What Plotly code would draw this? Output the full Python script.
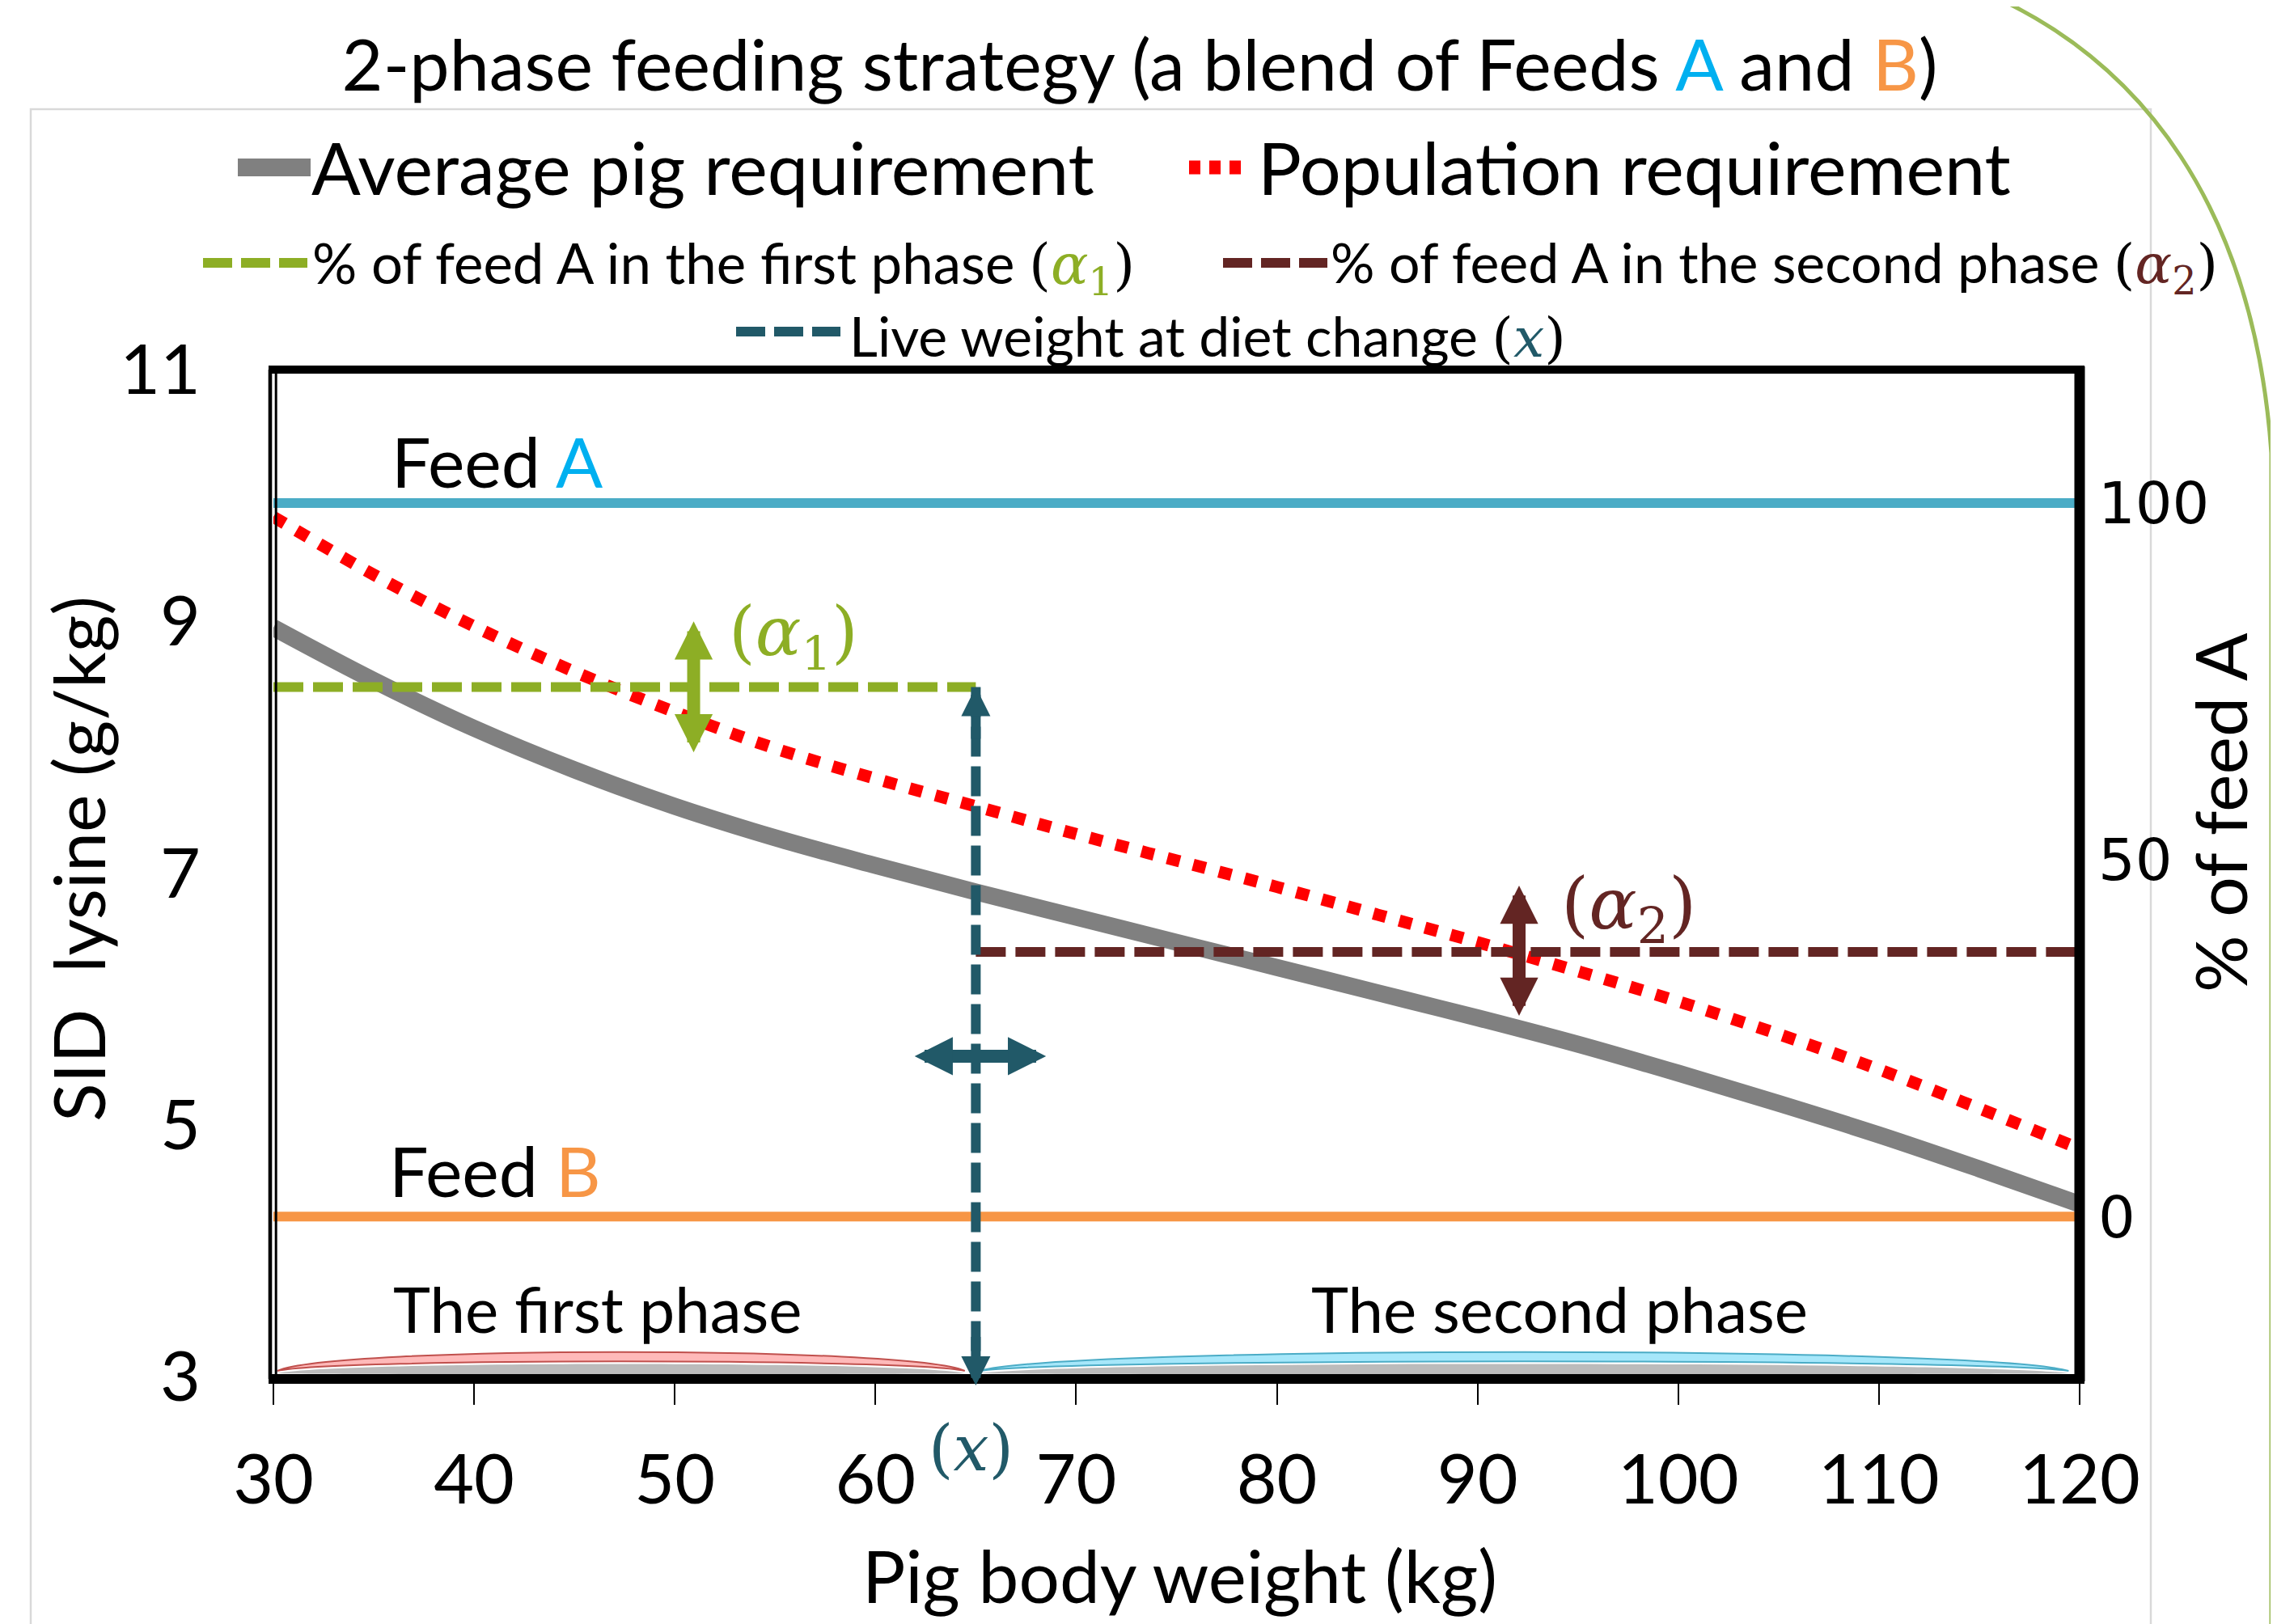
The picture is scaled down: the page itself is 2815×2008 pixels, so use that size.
import plotly.graph_objects as go

# ---------------- data ----------------
weights = [30, 35, 40, 45, 50, 55, 60, 65, 70, 75, 80, 85, 90, 95, 100, 105, 110, 115, 120]
avg_pig_req = [8.95, 8.53, 8.15, 7.82, 7.53, 7.28, 7.06, 6.85, 6.65, 6.45, 6.25, 6.05, 5.85, 5.64, 5.41, 5.17, 4.92, 4.65, 4.37]
population_req = [9.83, 9.37, 8.96, 8.60, 8.28, 7.99, 7.75, 7.53, 7.31, 7.10, 6.89, 6.67, 6.45, 6.22, 5.98, 5.72, 5.44, 5.13, 4.81]
weight_span = [30, 120]
feed_lysine = [9.94, 4.27]          # Feed A, Feed B (g/kg SID lysine)
feed_pct = [100, 0]                 # % of feed A for pure A / pure B
alpha_pct = [74.2, 37.1]            # alpha1, alpha2 (% of feed A)
x_change = 65                       # live weight at diet change (kg)
phase_spans = [[30, 65], [65, 120]]
x_ticks = [30, 40, 50, 60, 70, 80, 90, 100, 110, 120]
y_ticks = [3, 5, 7, 9, 11]
y2_ticks = [0, 50, 100]
y_range = [3, 11]

# ---------------- styles ----------------
W, H = 2815, 2008
L, R, T, B = 330, 2563, 449, 1694
PW, PH = R - L, B - T
FONT = "Lato, sans-serif"
MATH = "DejaVu Serif"
GRAY, RED = "#808080", "#FF0000"
GREEN, DRED, TEAL = "#8DAE25", "#632523", "#215968"
BLUE_LINE, ORANGE = "#4BACC6", "#F79646"
BLUE_TXT = "#00B0F0"


def px(x):
    return (x - L) / PW


def py(y):
    return (B - y) / PH


def to_pct(v):
    return (v - feed_lysine[1]) / (feed_lysine[0] - feed_lysine[1]) * 100


y2_range = [to_pct(y_range[0]), to_pct(y_range[1])]

fig = go.Figure()

# Feed A / Feed B lines (on % axis)
fig.add_trace(go.Scatter(x=weight_span, y=[feed_pct[0]] * 2, yaxis="y2", mode="lines",
                         line=dict(color=BLUE_LINE, width=12), showlegend=False, hoverinfo="skip"))
fig.add_trace(go.Scatter(x=weight_span, y=[feed_pct[1]] * 2, yaxis="y2", mode="lines",
                         line=dict(color=ORANGE, width=12), showlegend=False, hoverinfo="skip"))
# requirements
fig.add_trace(go.Scatter(x=weights, y=avg_pig_req, mode="lines", name="Average pig requirement",
                         line=dict(color=GRAY, width=21, shape="spline"), showlegend=False))
fig.add_trace(go.Scatter(x=weights, y=population_req, mode="lines", name="Population requirement",
                         line=dict(color=RED, width=15, dash="16px,17px", shape="spline"), showlegend=False))
# alpha lines
fig.add_trace(go.Scatter(x=[phase_spans[0][0], x_change], y=[alpha_pct[0]] * 2, yaxis="y2", mode="lines",
                         line=dict(color=GREEN, width=12, dash="37px,12px"), showlegend=False))
fig.add_trace(go.Scatter(x=[x_change, phase_spans[1][1]], y=[alpha_pct[1]] * 2, yaxis="y2", mode="lines",
                         line=dict(color=DRED, width=12, dash="37px,12px"), showlegend=False))
# live weight at diet change
fig.add_trace(go.Scatter(x=[x_change, x_change], y=[alpha_pct[0], y2_range[0]], yaxis="y2", mode="lines",
                         line=dict(color=TEAL, width=12, dash="37px,12px"), showlegend=False))

shapes = []


def pline(x0, y0, x1, y1, color, width, dash=None):
    d = dict(type="line", xref="paper", yref="paper", x0=px(x0), y0=py(y0), x1=px(x1), y1=py(y1),
             line=dict(color=color, width=width), layer="above")
    if dash:
        d["line"]["dash"] = dash
    shapes.append(d)


# chart-area frame (light gray)
shapes.append(dict(type="path", xref="paper", yref="paper",
                   path=f"M {px(30)},{py(2010)} L {px(30)},{py(127)} L {px(2651)},{py(127)} L {px(2651)},{py(2010)}",
                   line=dict(color="#D9D9D9", width=2.5), layer="below"))
# decorative green arc
shapes.append(dict(type="path", xref="paper", yref="paper",
                   path=(f"M {px(2462)},{py(-10)} C {px(2636)},{py(72)} {px(2778)},{py(242)} {px(2800)},{py(552)} "
                         f"L {px(2800)},{py(2010)}"),
                   line=dict(color="#9BBB59", width=5), layer="above"))

# phase ribbons
ribbons = [(phase_spans[0][0] + 0.2, phase_spans[0][1] - 0.55, "#FFB9B9", "#C0504D"),
           (phase_spans[1][0] + 0.2, phase_spans[1][1] - 0.55, "#A6E7FA", BLUE_LINE)]
yb, dt, db = 3.045, 0.15, 0.075
for x0, x1, fc, lc in ribbons:
    w = x1 - x0
    k = 1.333
    shadow = (f"M {x0},{yb-0.02} C {x0+0.08*w},{yb-0.02+db*k} {x1-0.08*w},{yb-0.02+db*k} {x1},{yb-0.02} "
              f"C {x1-0.08*w},{yb-0.03} {x0+0.08*w},{yb-0.03} {x0},{yb-0.02} Z")
    shapes.append(dict(type="path", xref="x", yref="y", path=shadow, fillcolor="rgba(60,60,60,0.35)",
                       line=dict(width=0), layer="above"))
    p = (f"M {x0},{yb} C {x0+0.08*w},{yb+dt*k} {x1-0.08*w},{yb+dt*k} {x1},{yb} "
         f"C {x1-0.08*w},{yb+db*k} {x0+0.08*w},{yb+db*k} {x0},{yb} Z")
    shapes.append(dict(type="path", xref="x", yref="y", path=p, fillcolor=fc,
                       line=dict(color=lc, width=2), layer="above"))

# plot frame
pline(L - 6, T, R + 6, T, "black", 10)
pline(R, T - 4, R, B + 6, "black", 13)
pline(L - 6, B + 3, R + 6, B + 3, "black", 12)
pline(L - 4, T, L - 4, B + 3, "black", 4.6)
pline(L + 3.2, T, L + 3.2, B, "black", 3)

# legend symbols
shapes.append(dict(type="rect", xref="paper", yref="paper", x0=px(286), x1=px(376), y0=py(188), y1=py(210),
                   fillcolor=GRAY, line=dict(width=0), layer="above"))
pline(1462, 199, 1530, 199, RED, 17, "14px,11px")
pline(243, 317, 372, 317, GREEN, 12, "36px,11px")
pline(1504, 317, 1633, 317, DRED, 12, "36px,11px")
pline(902, 402, 1031, 402, TEAL, 12, "36px,11px")

ann = []


def ptext(x, y, text, size, color="black", xanchor="left", family=FONT, angle=0):
    ann.append(dict(xref="paper", yref="paper", x=px(x), y=py(y), text=text, showarrow=False,
                    xanchor=xanchor, yanchor="middle", textangle=angle,
                    font=dict(family=family, size=size, color=color)))


def math_tag(sym, sub, color):
    s = f'<span style="font-family:{MATH}">(</span><span style="font-family:{MATH};color:{color}"><i>{sym}</i>'
    if sub:
        s += f'<sub>{sub}</sub>'
    s += f'</span><span style="font-family:{MATH}">)</span>'
    return s


# legend texts
ptext(375, 198, "Average pig requirement", 90)
ptext(1545, 198, "Population requirement", 90)
ptext(376, 321, "% of feed A in the first phase " + math_tag("α", "1", GREEN), 69)
ptext(1635, 321, "% of feed A in the second phase " + math_tag("α", "2", DRED), 68)
ptext(1040, 408, "Live weight at diet change " + math_tag("x", None, TEAL), 68)

# axis titles
ptext(1450, 1939, "Pig body weight (kg)", 89, xanchor="center")
ptext(88, 1054, "SID\u00a0 lysine (g/kg)", 88, xanchor="center", angle=-90)
ptext(2736, 997, "% of feed A", 88, xanchor="center", angle=-90)

# in-plot labels
ann.append(dict(x=41.16, y=10.28, xref="x", yref="y", showarrow=False, xanchor="center", yanchor="middle",
                text=f'Feed <span style="color:{BLUE_TXT}">A</span>', font=dict(family=FONT, size=86, color="black")))
ann.append(dict(x=41.06, y=4.64, xref="x", yref="y", showarrow=False, xanchor="center", yanchor="middle",
                text=f'Feed <span style="color:{ORANGE}">B</span>', font=dict(family=FONT, size=86, color="black")))
ann.append(dict(x=46.17, y=3.54, xref="x", yref="y", showarrow=False, xanchor="center", yanchor="middle",
                text="The first phase", font=dict(family=FONT, size=78, color="black")))
ann.append(dict(x=94.1, y=3.54, xref="x", yref="y", showarrow=False, xanchor="center", yanchor="middle",
                text="The second phase", font=dict(family=FONT, size=78, color="black")))
ann.append(dict(x=55.92, y=8.88, xref="x", yref="y", showarrow=False, xanchor="center", yanchor="middle",
                text="(<i>α</i><sub>1</sub>)", font=dict(family=MATH, size=84, color=GREEN)))
ann.append(dict(x=97.52, y=6.715, xref="x", yref="y", showarrow=False, xanchor="center", yanchor="middle",
                text="(<i>α</i><sub>2</sub>)", font=dict(family=MATH, size=88, color=DRED)))
ann.append(dict(x=64.75, y=py(1783), xref="x", yref="paper", showarrow=False, xanchor="center", yanchor="middle",
                text="(<i>x</i>)", font=dict(family=MATH, size=78, color=TEAL)))


def arrow(x, y, ax, ay, color, width, size, both=True, yref="y"):
    d = dict(x=x, y=y, xref="x", yref=yref, ax=ax, ay=ay, text=" ", font=dict(size=1),
             showarrow=True, arrowhead=2, arrowsize=size, arrowwidth=width, arrowcolor=color,
             standoff=0, startstandoff=0)
    if both:
        d.update(arrowside="end+start", startarrowhead=2, startarrowsize=size)
    ann.append(d)


arrow(50.94, 9.00, 0, 164, GREEN, 16, 0.59)
arrow(92.07, 6.90, 0, 163, DRED, 16, 0.59)
arrow(68.5, 5.545, -164, 0, TEAL, 16, 0.59)
arrow(x_change, alpha_pct[0], 0, 66, TEAL, 12, 0.6, both=False, yref="y2")
arrow(x_change, py(B + 11), 0, -62, TEAL, 12, 0.6, both=False, yref="paper")

fig.update_layout(
    width=W, height=H,
    margin=dict(l=L, r=W - R, t=T, b=H - B, autoexpand=False),
    paper_bgcolor="white", plot_bgcolor="white",
    font=dict(family=FONT, color="black"),
    title=dict(text=(f'2-phase feeding strategy (a blend of Feeds <span style="color:{BLUE_TXT}">A</span> and '
                     f'<span style="color:{ORANGE}">B</span>)'),
               x=1401 / W, y=1 - 73 / H, xanchor="center", yanchor="middle", xref="container", yref="container",
               font=dict(family=FONT, size=88, color="black")),
    xaxis=dict(range=weight_span, tickvals=x_ticks, ticks="outside", ticklen=34, tickwidth=2, tickcolor="black",
               tickfont=dict(family=FONT, size=86, color="black"), showgrid=False, zeroline=False, showline=False,
               ticklabelstandoff=19, automargin=False),
    yaxis=dict(range=y_range, tickvals=y_ticks, ticks="", tickfont=dict(family=FONT, size=86, color="black"),
               showgrid=False, zeroline=False, showline=False, ticklabelstandoff=89, automargin=False),
    yaxis2=dict(range=y2_range, tickvals=y2_ticks, ticks="", overlaying="y", side="right",
                tickfont=dict(family="DejaVu Sans", size=72, color="black"),
                showgrid=False, zeroline=False, showline=False, ticklabelstandoff=22, automargin=False),
    shapes=shapes, annotations=ann, showlegend=False,
)

fig.write_html("out.html")
